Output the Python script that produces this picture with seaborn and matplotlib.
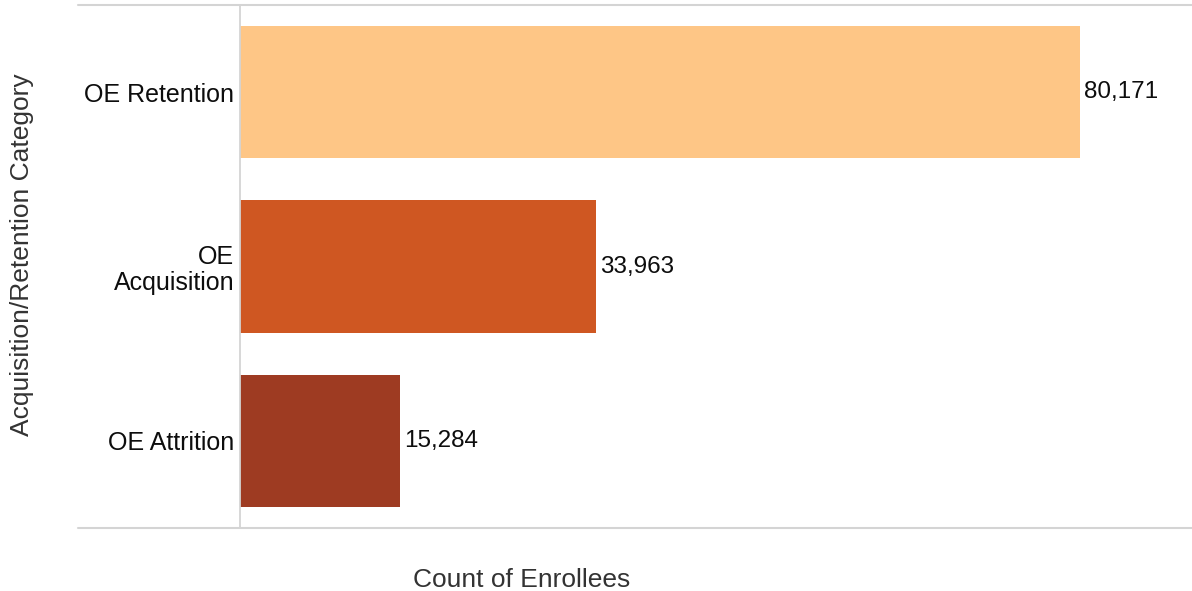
import matplotlib
matplotlib.use("Agg")
import matplotlib.pyplot as plt
from matplotlib.lines import Line2D
import seaborn as sns
import pandas as pd

categories = ["OE Retention", "OE\nAcquisition", "OE Attrition"]
enrollees = [80171, 33963, 15284]
bar_colors = ["#FEC686", "#CF5722", "#9E3B22"]

sns.set_theme(style="white")
plt.rcParams["font.family"] = ["Liberation Sans", "DejaVu Sans"]

df = pd.DataFrame({"category": categories, "count": enrollees})

W, H = 1192, 591
fig = plt.figure(figsize=(W / 100, H / 100), dpi=100)
ax = fig.add_axes([240 / W, 1 - 528 / H, 1 - 240 / W, (528 - 5) / H])

sns.barplot(data=df, y="category", x="count", hue="category",
            palette=bar_colors, order=categories, hue_order=categories,
            width=0.76, orient="h", legend=False, ax=ax, saturation=1,
            linewidth=0)

ax.set_xlim(0, 90860)
ax.set_xticks([])
ax.set_xlabel("")
ax.set_ylabel("")
ax.tick_params(axis="y", length=0, pad=4, labelsize=18, labelcolor="#0d0d0d")
for lbl in ax.get_yticklabels():
    lbl.set_horizontalalignment("right")
    lbl.set_linespacing(1.12)

for side in ["top", "right", "bottom"]:
    ax.spines[side].set_visible(False)
ax.spines["left"].set_color("#d4d4d4")
ax.spines["left"].set_linewidth(1.3)

for container in ax.containers:
    ax.bar_label(container, labels=[f"{v:,.0f}" for v in container.datavalues],
                 padding=3, fontsize=17.5, color="#0d0d0d")

# frame lines spanning the label column and the plot area
for yp in (5, 528):
    fig.add_artist(Line2D([78 / W, 1.0], [1 - yp / H, 1 - yp / H],
                          color="#d4d4d4", linewidth=1.5,
                          transform=fig.transFigure))

fig.text(22 / W, 1 - 255 / H, "Acquisition/Retention Category", rotation=90,
         ha="center", va="center", fontsize=19, color="#333333")
fig.text(522 / W, 1 - 580 / H, "Count of Enrollees",
         ha="center", va="center", fontsize=19, color="#333333")

fig.savefig("out.png", dpi=100)
